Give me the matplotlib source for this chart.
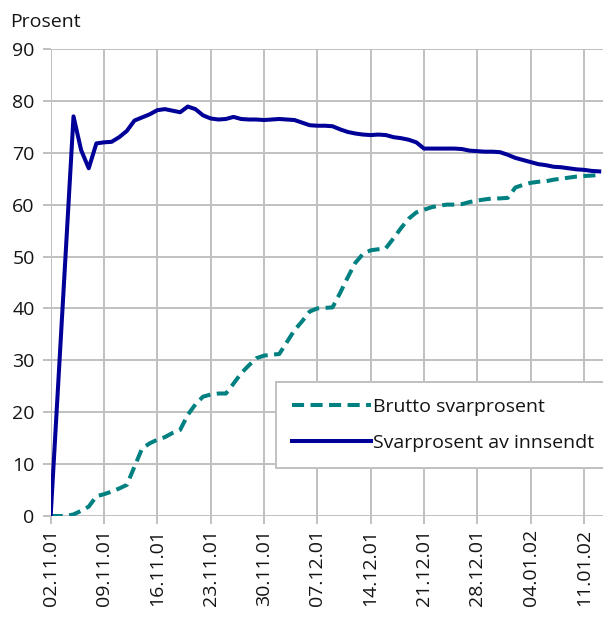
import matplotlib
matplotlib.use('Agg')
import numpy as np
import matplotlib.pyplot as plt

# days after 02.11.01
tick_days = [0, 7, 14, 21, 28, 35, 42, 49, 56, 63, 70]
tick_labels = ['02.11.01', '09.11.01', '16.11.01', '23.11.01', '30.11.01',
               '07.12.01', '14.12.01', '21.12.01', '28.12.01', '04.01.02', '11.01.02']

brutto_days = list(range(0, 73))
brutto = [0, 0, 0, 0.3, 1.0, 1.8, 3.8, 4.2, 4.7, 5.3,
          6.0, 9.5, 13.0, 14.0, 14.7, 15.2, 16.0, 16.6, 19.5, 21.5,
          23.0, 23.4, 23.6, 23.6, 25.5, 27.5, 29.0, 30.4, 30.9, 31.1,
          31.2, 33.5, 35.8, 37.5, 39.4, 40.0, 40.1, 40.2, 43.0, 46.0,
          48.8, 50.5, 51.2, 51.4, 51.6, 53.5, 55.5, 57.3, 58.5, 59.0,
          59.5, 59.8, 60.0, 60.0, 60.1, 60.5, 60.8, 61.0, 61.2, 61.2,
          61.3, 63.3, 63.8, 64.2, 64.4, 64.5, 64.8, 65.0, 65.2, 65.4,
          65.5, 65.6, 65.7]

innsendt_days = [0] + list(range(3, 73))
innsendt = [0, 77.0, 70.5, 67.0, 71.8, 72.0, 72.1, 73.0,
            74.2, 76.2, 76.8, 77.4, 78.2, 78.4, 78.1, 77.8, 78.9, 78.4,
            77.2, 76.6, 76.4, 76.5, 76.9, 76.5, 76.4, 76.4, 76.3, 76.4,
            76.5, 76.4, 76.3, 75.8, 75.3, 75.2, 75.2, 75.1, 74.5, 74.0,
            73.7, 73.5, 73.4, 73.5, 73.4, 73.0, 72.8, 72.5, 72.0, 70.8,
            70.8, 70.8, 70.8, 70.8, 70.7, 70.4, 70.3, 70.2, 70.2, 70.1,
            69.6, 69.0, 68.6, 68.2, 67.8, 67.6, 67.3, 67.2, 67.0, 66.8,
            66.7, 66.5, 66.4]

plt.rcParams['font.family'] = ['Open Sans', 'DejaVu Sans']
grid_col = '#c0c0c0'
txt_col = '#141414'

fig = plt.figure(figsize=(6.03, 6.17), dpi=100)
ax = fig.add_axes([0.084, 0.1637, 0.916, 0.757])

ax.plot(brutto_days, brutto, color='#008080', lw=2.9, dashes=(3, 1.6),
        dash_capstyle='butt', label='Brutto svarprosent', zorder=3)
ax.plot(innsendt_days, innsendt, color='#000099', lw=2.9,
        label='Svarprosent av innsendt', zorder=4)

ax.set_xlim(0, 72.5)
ax.set_ylim(0, 90)
ax.set_yticks(range(0, 91, 10))
ax.set_xticks(tick_days)
ax.set_xticklabels(tick_labels, rotation=90)
ax.grid(True, color=grid_col, lw=1.4)
ax.set_axisbelow(True)
for s in ax.spines.values():
    s.set_visible(False)
ax.tick_params(axis='both', color=grid_col, width=1.4, length=5.5,
               labelsize=14, labelcolor=txt_col)
ax.tick_params(axis='y', pad=6)
ax.tick_params(axis='x', pad=4)

# legend box runs off the right edge, as in the original
leg = ax.legend(loc='upper left', bbox_to_anchor=(0.408, 0.0, 0.62, 0.287),
                mode='expand', borderaxespad=0, fontsize=14, handlelength=4.1,
                handletextpad=0.1, labelspacing=0.95, borderpad=0.8,
                fancybox=False, framealpha=1, edgecolor=grid_col)
leg.get_frame().set_linewidth(1.4)
for t in leg.get_texts():
    t.set_color(txt_col)

fig.text(10 / 603, 1 - 27 / 617, 'Prosent', fontsize=14, color=txt_col)

fig.savefig('out.png', dpi=100)
